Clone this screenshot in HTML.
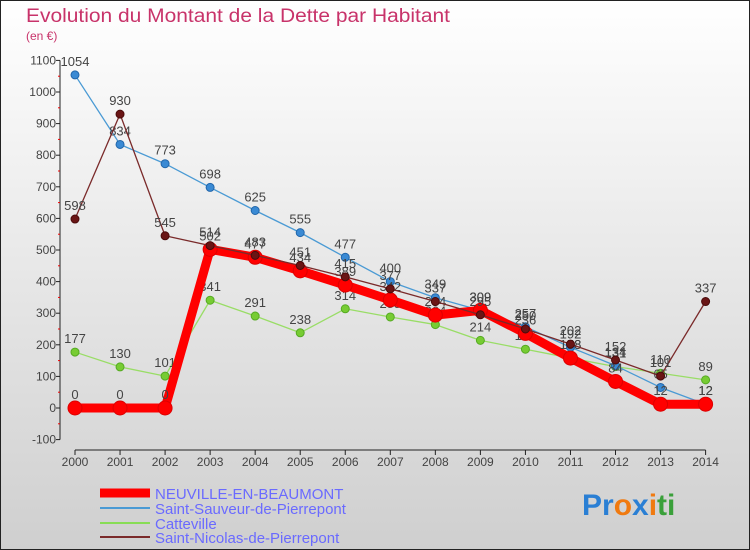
<!DOCTYPE html>
<html><head><meta charset="utf-8"><style>
body{margin:0;}
#c{width:750px;height:550px;position:relative;overflow:hidden;font-family:"Liberation Sans",sans-serif;}
</style></head><body>
<div id="c">
<svg id="s" width="750" height="550" xmlns="http://www.w3.org/2000/svg">
<defs><linearGradient id="bg" x1="0" y1="0" x2="0" y2="1"><stop offset="0" stop-color="#ffffff"/><stop offset="1" stop-color="#cfcfcf"/></linearGradient></defs>
<rect x="0.5" y="0.5" width="749" height="549" fill="url(#bg)" stroke="#222"/>
<text x="26" y="22" font-size="19" fill="#c8336a" textLength="424" lengthAdjust="spacingAndGlyphs">Evolution du Montant de la Dette par Habitant</text>
<text x="26" y="40" font-size="12" fill="#c8336a">(en €)</text>
<g id="axes"></g><g id="series"></g>
<g>
<line x1="100" y1="493" x2="150" y2="493" stroke="#ff0000" stroke-width="9"/>
<text x="155" y="499" font-size="15" fill="#6a6aff">NEUVILLE-EN-BEAUMONT</text>
<line x1="100" y1="508" x2="150" y2="508" stroke="#4a9ad4" stroke-width="2"/>
<text x="155" y="514" font-size="15" fill="#6a6aff">Saint-Sauveur-de-Pierrepont</text>
<line x1="100" y1="523" x2="150" y2="523" stroke="#88dd55" stroke-width="2"/>
<text x="155" y="529" font-size="15" fill="#6a6aff">Catteville</text>
<line x1="100" y1="537" x2="150" y2="537" stroke="#7a2a2a" stroke-width="2"/>
<text x="155" y="543" font-size="15" fill="#6a6aff">Saint-Nicolas-de-Pierrepont</text>
</g>
<text x="582" y="515" font-size="30" font-weight="bold"><tspan fill="#2a7fd4">Pr</tspan><tspan fill="#f07a10">o</tspan><tspan fill="#2a7fd4">x</tspan><tspan fill="#f07a10">i</tspan><tspan fill="#3aa03a">ti</tspan></text>
</svg></div>
<script>
const years=[2000,2001,2002,2003,2004,2005,2006,2007,2008,2009,2010,2011,2012,2013,2014];
const yTicks=[-100,0,100,200,300,400,500,600,700,800,900,1000,1100];
const neuville=[0,0,0,502,477,434,389,342,294,309,236,158,84,12,12];
const sauveur=[1054,834,773,698,625,555,477,400,349,309,257,192,134,65,12];
const catteville=[177,130,101,341,291,238,314,288,264,214,186,158,131,110,89];
const nicolas=[598,930,545,514,483,451,415,377,337,295,250,202,152,101,337];
const NS="http://www.w3.org/2000/svg";
function xs(i){return 75+i*(705.6-75)/(years.length-1);}
function ys(v){return 408-v*0.316;}
function mk(t,a,p){const e=document.createElementNS(NS,t);for(const k in a)e.setAttribute(k,a[k]);p.appendChild(e);return e;}
const ax=document.getElementById('axes');
const ya=mk('line',{x1:60,y1:ys(1100),x2:60,y2:ys(-100),stroke:'#222','stroke-width':1},ax);


const xa=mk('line',{x1:75,y1:450,x2:705.6,y2:450,stroke:'#222','stroke-width':1},ax);


yTicks.forEach(v=>{
 mk('line',{x1:56,y1:ys(v),x2:60,y2:ys(v),stroke:'#222'},ax);
 if(v<1100) mk('line',{x1:58,y1:ys(v+50),x2:60,y2:ys(v+50),stroke:'#e00'},ax);
 const t=mk('text',{x:56,y:ys(v)+4,'font-size':12,fill:'#444','text-anchor':'end'},ax);
 t.textContent=v;
 
 
});
years.forEach((y,i)=>{
 mk('line',{x1:xs(i),y1:450,x2:xs(i),y2:455,stroke:'#222'},ax);
 const t=mk('text',{x:xs(i),y:466,'font-size':12,fill:'#444','text-anchor':'middle'},ax);
 t.textContent=y;
 
 
});
const sg=document.getElementById('series');
function draw(data,name,color,w,r,dot,stroke){
 const g=mk('g',{},sg);
 
 
 const pl=mk('polyline',{points:data.map((v,i)=>xs(i)+','+ys(v)).join(' '),fill:'none',stroke:color,'stroke-width':w,'stroke-linejoin':'round'},g);
 
 
 data.forEach((v,i)=>{
  const c=mk('circle',{cx:xs(i),cy:ys(v),r:r,fill:dot,stroke:stroke,'stroke-width':1},g);
  
  
  const t=mk('text',{x:xs(i),y:ys(v)-9,'font-size':13,fill:'#444','text-anchor':'middle'},g);
  t.textContent=v;
  
  
 });
}
draw(catteville,'catteville','#99dd66',1.3,4,'#77cc33','#55aa22');
draw(sauveur,'saint-sauveur','#4a9ad4',1.3,4,'#3a8ad4','#2266aa');
draw(neuville,'neuville','#ff0000',9,7,'#ff0000','#dd0000');
draw(nicolas,'saint-nicolas','#7a2a2a',1.3,4,'#6a1515','#4a0a0a');
</script>
</body></html>
